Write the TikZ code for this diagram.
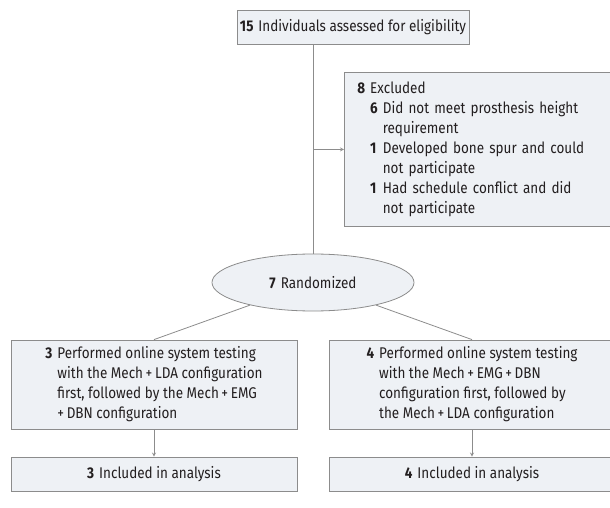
\documentclass[tikz,border=0pt]{standalone}
\usepackage{fontspec}
\setmainfont[FakeStretch=0.87]{Fira Sans}
\usetikzlibrary{shapes.geometric, arrows}
\definecolor{boxfill}{HTML}{EEF1F5}
\definecolor{boxline}{HTML}{8C8C8C}
\definecolor{txt}{HTML}{231F20}
\tikzstyle{flowbox} = [rectangle, minimum width=286pt, minimum height=34pt, text centered, draw=boxline, fill=boxfill, text=txt, line width=0.8pt, inner sep=0pt]
\tikzstyle{randbox} = [ellipse, minimum width=202pt, minimum height=57pt, text centered, draw=boxline, fill=boxfill, text=txt, line width=0.8pt, inner sep=0pt]
\tikzstyle{line} = [draw=boxline, line width=0.8pt]
\tikzstyle{arrow} = [line, ->, >=stealth]
\newcommand{\numline}[2]{\textbf{#1}\hspace{5pt}#2}

\begin{document}
\begin{tikzpicture}[x=1pt, y=-1pt, font=\fontsize{15.5}{20}\selectfont]
\useasboundingbox (0,0) rectangle (610,508);

\node (screen) [flowbox, minimum width=232pt] at (353,27) {\numline{15}{Individuals assessed for eligibility}};

\node (excl) [flowbox, anchor=north west, align=left, text width=260pt, inner xsep=13pt, minimum height=154pt] at (344,72) {%
\begin{tabular}{@{}l@{\hspace{5pt}}l@{\hspace{5pt}}l@{}}
\textbf{8} & \multicolumn{2}{@{}l@{}}{Excluded}\\
 & \textbf{6} & Did not meet prosthesis height\\
 & & requirement\\
 & \textbf{1} & Developed bone spur and could\\
 & & not participate\\
 & \textbf{1} & Had schedule conflict and did\\
 & & not participate
\end{tabular}};

\node (rand) [randbox] at (313,282.5) {\numline{7}{Randomized}};

\node (mechlda) [flowbox, minimum height=89pt] at (154,384.5) {%
\begin{tabular}{@{}l@{\hspace{5pt}}l@{}}
\textbf{3} & Performed online system testing\\
 & with the Mech\,+\,LDA configuration\\
 & first, followed by the Mech\,+\,EMG\\
 & +\,DBN configuration
\end{tabular}};

\node (mechemg) [flowbox, minimum height=89pt] at (472,384.5) {%
\begin{tabular}{@{}l@{\hspace{5pt}}l@{}}
\textbf{4} & Performed online system testing\\
 & with the Mech\,+\,EMG\,+\,DBN\\
 & configuration first, followed by\\
 & the Mech\,+\,LDA configuration
\end{tabular}};

\node (ldaout) [flowbox] at (154,474) {\numline{3}{Included in analysis}};
\node (emgout) [flowbox] at (472,474) {\numline{4}{Included in analysis}};

\draw [line] (screen.south -| rand.north) -- (rand.north);
\draw [arrow] (excl.west -| rand.north) -- (excl.west);
\draw [line] (rand) -- (mechlda.north);
\draw [line] (rand) -- (mechemg.north);
\draw [arrow] (mechlda) -- (ldaout);
\draw [arrow] (mechemg) -- (emgout);
\end{tikzpicture}
\end{document}
